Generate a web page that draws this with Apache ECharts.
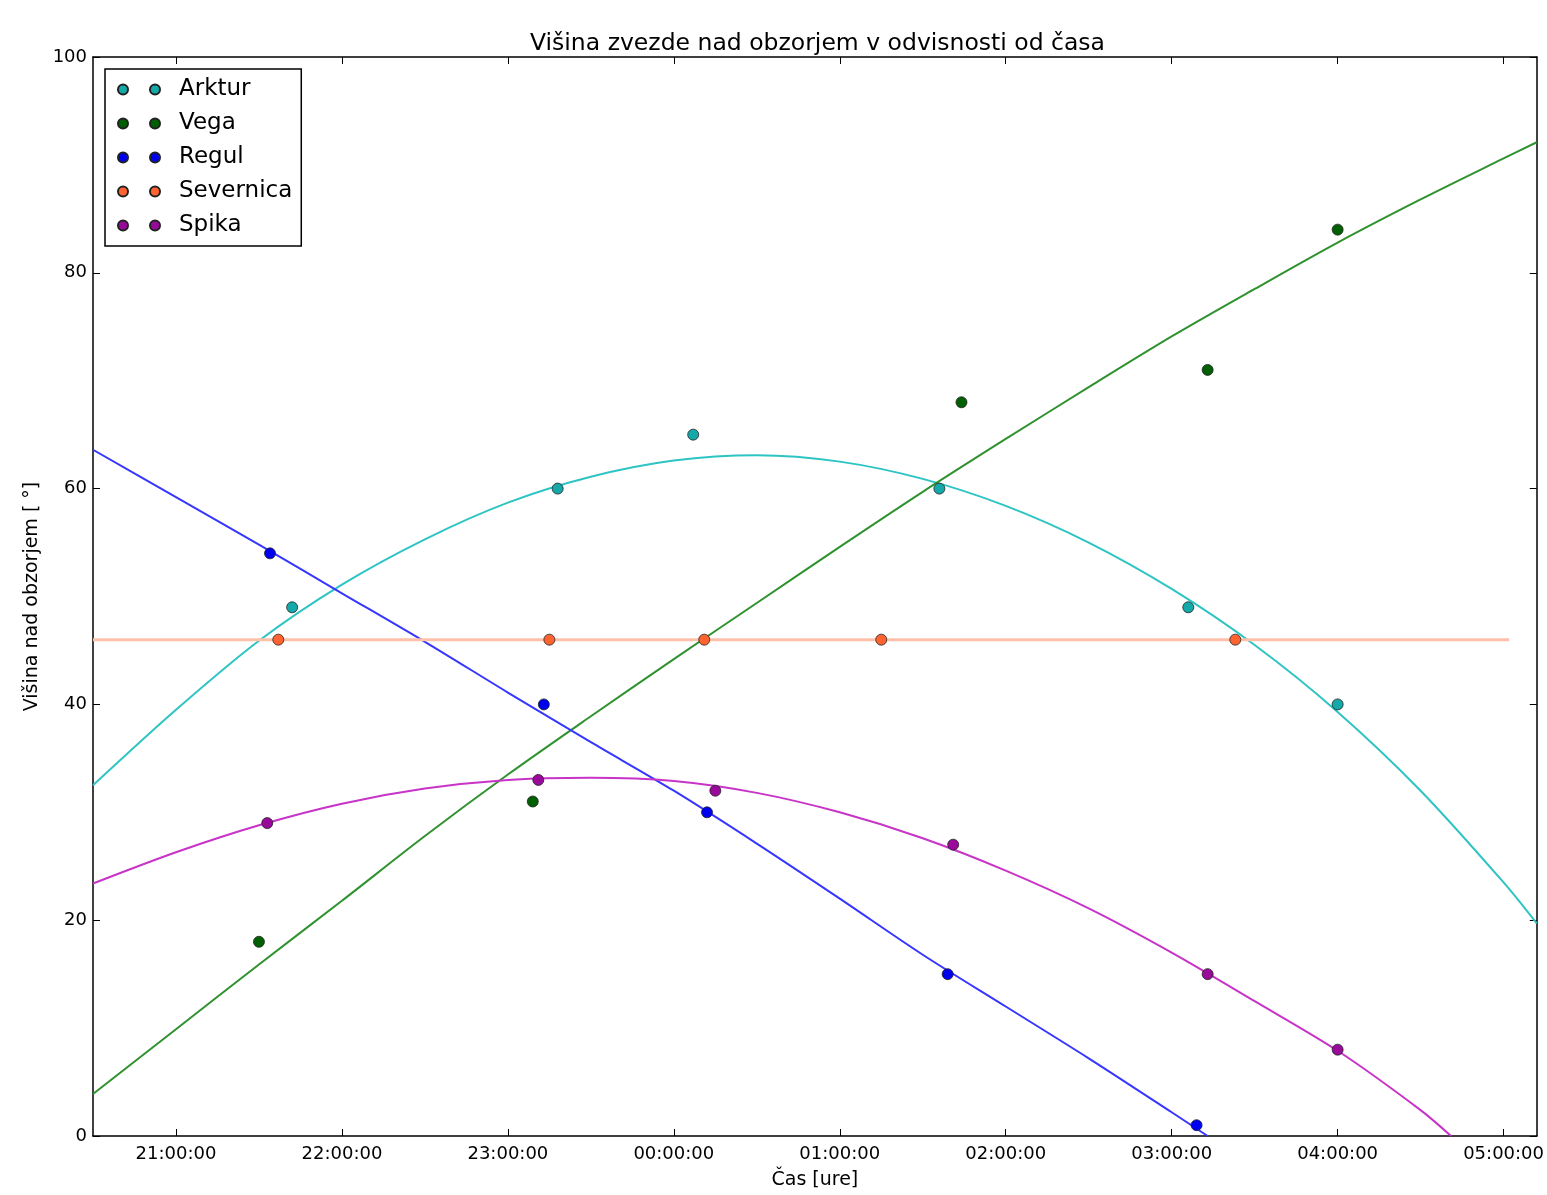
<!DOCTYPE html>
<html>
<head>
<meta charset="utf-8">
<script src="https://cdn.jsdelivr.net/npm/echarts@6/dist/echarts.min.js"></script>
<style>
  html, body { margin: 0; padding: 0; background: #fff; overflow: hidden; }
  #main { width: 100vw; height: 100vh; }
</style>
</head>
<body>
<div id="main"></div>
<script>
// ---- data ----
var hourTicks = [21, 22, 23, 24, 25, 26, 27, 28, 29];
var tickLabels = ['21:00:00', '22:00:00', '23:00:00', '00:00:00', '01:00:00', '02:00:00', '03:00:00', '04:00:00', '05:00:00'];

var arkturTimes = ['21:42', '23:18', '00:07', '01:36', '03:06', '04:00'];
var arkturVals  = [49, 60, 65, 60, 49, 40];
var vegaTimes = ['21:30', '23:09', '01:44', '03:13', '04:00'];
var vegaVals  = [18, 31, 68, 71, 84];
var regulTimes = ['21:34', '23:13', '00:12', '01:39', '03:09'];
var regulVals  = [54, 40, 30, 15, 1];
var severnicaTimes = ['21:37', '23:15', '00:11', '01:15', '03:23'];
var severnicaVals  = [46, 46, 46, 46, 46];
var spikaTimes = ['21:33', '23:11', '00:15', '01:41', '03:13', '04:00'];
var spikaVals  = [29, 33, 32, 27, 15, 8];

// fitted curves, read every half hour from the picture
var halfHours = ['20:30', '21:00', '21:30', '22:00', '22:30', '23:00', '23:30', '00:00', '00:30',
                 '01:00', '01:30', '02:00', '02:30', '03:00', '03:30', '04:00', '04:30', '05:00'];
var arkturFitVals = [32.5, 39.5, 45.9, 51.1, 55.3, 58.7, 61.1, 62.6, 63.1,
                     62.5, 60.9, 58.4, 55.0, 50.7, 45.5, 39.3, 32.0, 23.5];
var vegaFitVals   = [3.9, 9.9, 15.9, 21.8, 27.8, 33.5, 38.9, 44.2, 49.4,
                     54.6, 59.7, 64.6, 69.4, 74.1, 78.5, 82.8, 86.8, 90.6];
var regulFitVals  = [63.6, 59.2, 54.8, 50.3, 45.8, 41.1, 36.5, 32.0, 27.1,
                     22.0, 16.8, 12.0, 7.2, 2.2];
var spikaFitVals  = [23.4, 26.3, 28.8, 30.8, 32.2, 33.0, 33.2, 32.9, 31.8,
                     30.0, 27.6, 24.6, 21.1, 17.0, 12.5, 7.9, 2.4];
var arkturFitEnd = ['05:12', 19.7];
var vegaFitEnd   = ['05:12', 92.1];
var regulFitEnd  = ['03:13', 0];
var spikaFitEnd  = ['04:41', 0];
var severnicaFitTimes = ['20:30', '05:02'];
var severnicaFitVals  = [46, 46];

function toHours(t) {
    var p = t.split(':');
    var h = +p[0] + (+p[1]) / 60;
    if (h < 12) h += 24;   // past midnight
    return h;
}
function pairs(times, vals) {
    return vals.map(function (v, i) { return [toHours(times[i]), v]; });
}
function fitPairs(vals, end) {
    var d = pairs(halfHours, vals);
    if (end) d.push([toHours(end[0]), end[1]]);
    return d;
}

var font = 'DejaVu Sans';
var twoDots = 'path://M0,5a5,5 0 1,0 10,0a5,5 0 1,0 -10,0M32,5a5,5 0 1,0 10,0a5,5 0 1,0 -10,0';

function dots(name, times, vals, color) {
    return {
        name: name,
        type: 'scatter',
        z: 5,
        symbolSize: 11,
        itemStyle: { color: color, borderColor: '#222', borderWidth: 0.8, opacity: 1 },
        data: pairs(times, vals)
    };
}
function fit(name, data, color, width) {
    return {
        name: name,
        type: 'line',
        z: 3,
        smooth: 0.3,
        symbol: 'none',
        lineStyle: { color: color, width: width || 2 },
        data: data
    };
}

var chart = echarts.init(document.getElementById('main'));
var option = {
    animation: false,
    backgroundColor: '#fff',
    title: {
        text: 'Višina zvezde nad obzorjem v odvisnosti od časa',
        left: 525,
        top: 27,
        textStyle: { fontFamily: font, fontSize: 23.5, fontWeight: 'normal', color: '#000' }
    },
    grid: { left: 93, right: 2, top: 57, bottom: 49 },
    legend: {
        orient: 'vertical',
        left: 105,
        top: 69,
        data: ['Arktur', 'Vega', 'Regul', 'Severnica', 'Spika'],
        icon: twoDots,
        itemWidth: 42,
        itemHeight: 10,
        itemGap: 11,
        padding: [9, 9, 9, 12],
        backgroundColor: '#fff',
        borderColor: '#000',
        borderWidth: 1.5,
        textStyle: { fontFamily: font, fontSize: 23, lineHeight: 22, color: '#000', padding: [0, 0, 0, 14] }
    },
    xAxis: [
        {
            type: 'value',
            min: 20.5,
            max: 29.2,
            position: 'bottom',
            name: 'Čas [ure]',
            nameLocation: 'middle',
            nameGap: 35,
            nameTextStyle: { fontFamily: font, fontSize: 19, color: '#000' },
            axisLine: { show: true, onZero: false, lineStyle: { color: '#000', width: 1.5 } },
            axisTick: { show: true, inside: true, length: 7, customValues: hourTicks, lineStyle: { color: '#000' } },
            axisLabel: {
                customValues: hourTicks,
                margin: 9,
                fontFamily: font, fontSize: 18, color: '#000',
                formatter: function (v) { return tickLabels[hourTicks.indexOf(Math.round(v))]; }
            },
            splitLine: { show: false }
        },
        {
            type: 'value',
            min: 20.5,
            max: 29.2,
            position: 'top',
            axisLine: { show: true, onZero: false, lineStyle: { color: '#000', width: 1.5 } },
            axisTick: { show: true, inside: true, length: 7, customValues: hourTicks, lineStyle: { color: '#000' } },
            axisLabel: { show: false },
            splitLine: { show: false }
        }
    ],
    yAxis: [
        {
            type: 'value',
            min: 0,
            max: 100,
            interval: 20,
            position: 'left',
            name: 'Višina nad obzorjem [ °]',
            nameLocation: 'middle',
            nameGap: 50,
            nameTextStyle: { fontFamily: font, fontSize: 19, color: '#000' },
            axisLine: { show: true, onZero: false, lineStyle: { color: '#000', width: 1.5 } },
            axisTick: { show: true, inside: true, length: 7, lineStyle: { color: '#000' } },
            axisLabel: { margin: 6, fontFamily: font, fontSize: 18, color: '#000' },
            splitLine: { show: false }
        },
        {
            type: 'value',
            min: 0,
            max: 100,
            interval: 20,
            position: 'right',
            axisLine: { show: true, onZero: false, lineStyle: { color: '#000', width: 1.5 } },
            axisTick: { show: true, inside: true, length: 7, lineStyle: { color: '#000' } },
            axisLabel: { show: false },
            splitLine: { show: false }
        }
    ],
    series: [
        fit('Arktur fit', fitPairs(arkturFitVals, arkturFitEnd), '#2ec4c4'),
        fit('Vega fit', fitPairs(vegaFitVals, vegaFitEnd), '#2f922f'),
        fit('Regul fit', fitPairs(regulFitVals, regulFitEnd), '#3636ff'),
        fit('Severnica fit', pairs(severnicaFitTimes, severnicaFitVals), '#ffc0aa', 3),
        fit('Spika fit', fitPairs(spikaFitVals, spikaFitEnd), '#c833c8'),
        dots('Arktur', arkturTimes, arkturVals, '#14a8a8'),
        dots('Vega', vegaTimes, vegaVals, '#005f00'),
        dots('Regul', regulTimes, regulVals, '#0000f0'),
        dots('Severnica', severnicaTimes, severnicaVals, '#ff6430'),
        dots('Spika', spikaTimes, spikaVals, '#9a0a9a')
    ]
};
chart.setOption(option);
</script>
</body>
</html>
